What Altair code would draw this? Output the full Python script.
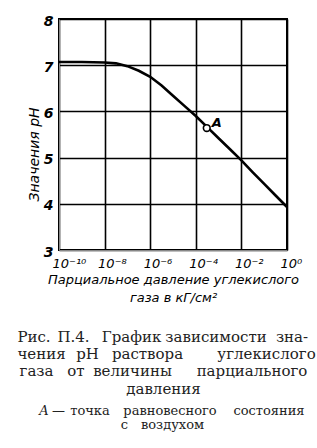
import altair as alt
import pandas as pd

# data
pressure_exp = [-10, -9, -8, -7.5, -7, -6.5, -6, -5.5, -5, -4.5, -4, -3.5, -3, -2.5, -2, -1.5, -1, -0.5, 0]
ph_values = [7.07, 7.07, 7.06, 7.04, 6.98, 6.88, 6.75, 6.56, 6.34, 6.12, 5.90, 5.66, 5.42, 5.18, 4.94, 4.68, 4.43, 4.18, 3.93]
point_a_exp = [-3.52]
point_a_ph = [5.64]
point_a_label = ["A"]

x_tick_values = [1e-10, 1e-8, 1e-6, 1e-4, 1e-2, 1]
x_tick_labels = ["10⁻¹⁰", "10⁻⁸", "10⁻⁶", "10⁻⁴", "10⁻²", "10⁰"]
y_tick_values = [3, 3.5, 4, 4.5, 5, 5.5, 6, 6.5, 7, 7.5, 8]

x_title = ["Парциальное давление углекислого", "газа в кГ/см²"]
y_title = "Значения pH"
caption_words = [
    ["Рис.", "П.4.", "График", "зависимости", "зна-"],
    ["чения", "pH", "раствора", "углекислого"],
    ["газа", "от", "величины", "парциального"],
    ["давления"],
]
note_words = [
    ["А", "—", "точка", "равновесного", "состояния"],
    ["с", "воздухом"],
]

# layout (pixels): word centres for the justified caption text
caption_word_cx = [
    [34, 73.5, 131.5, 216, 292],
    [41.5, 87.5, 147.5, 266.5],
    [36.5, 76, 132.5, 252],
    [163.5],
]
caption_base_y = [342, 359, 376, 394]
note_word_cx = [
    [44, 58.5, 90, 170, 269],
    [124.5, 172.5],
]
note_base_y = [415, 429]

curve = pd.DataFrame({"P": [10 ** e for e in pressure_exp], "pH": ph_values})
pta = pd.DataFrame({"P": [10 ** e for e in point_a_exp], "pH": point_a_ph, "lab": point_a_label})

label_expr = " : ".join(
    f"datum.value > {v*0.5} && datum.value < {v*2} ? '{l}'" for v, l in zip(x_tick_values, x_tick_labels)
) + " : ''"

xenc = alt.X("P:Q", scale=alt.Scale(type="log", domain=[1e-10, 1]),
             axis=alt.Axis(values=x_tick_values, labelExpr=label_expr, grid=True,
                           gridColor="black", gridWidth=1.6, ticks=False,
                           labelAlign="left", labelOffset=-7, labelPadding=7,
                           labelFont="DejaVu Sans", labelFontStyle="italic", labelFontSize=13,
                           labelColor="black",
                           title=x_title, titleFont="DejaVu Sans", titleFontStyle="italic",
                           titleFontWeight="normal", titleFontSize=13, titleColor="black",
                           titlePadding=3, titleLineHeight=18))
yenc = alt.Y("pH:Q", scale=alt.Scale(domain=[3, 8]),
             axis=alt.Axis(values=y_tick_values,
                           labelExpr="datum.value % 1 == 0 ? datum.value : ''",
                           grid=True, gridColor="black", gridWidth=1.6, ticks=False,
                           labelPadding=6, labelOffset=2, labelFont="DejaVu Sans", labelFontStyle="italic",
                           labelFontWeight="bold", labelFontSize=14, labelColor="black",
                           title=y_title, titleFont="DejaVu Sans", titleFontStyle="italic",
                           titleFontWeight="normal", titleFontSize=14, titleColor="black",
                           titleX=-25, titleY=135, titleAlign="center", titleBaseline="middle"))

line = alt.Chart(curve).mark_line(color="black", strokeWidth=2.6).encode(x=xenc, y=yenc)
pt = alt.Chart(pta).mark_point(shape="circle", filled=True, fill="white", stroke="black",
                               strokeWidth=1.6, size=45, opacity=1).encode(x="P:Q", y="pH:Q")
ptl = alt.Chart(pta).mark_text(dx=10, dy=-5, font="DejaVu Sans", fontStyle="italic",
                               fontWeight="bold", fontSize=13, color="black").encode(
    x="P:Q", y="pH:Q", text="lab:N")

layers = [line, pt, ptl]
dummy = pd.DataFrame({"a": [0]})
OX, OY = 59, 19  # plot origin inside the padded canvas
for words, xs, yy in zip(caption_words, caption_word_cx, caption_base_y):
    for w, xx in zip(words, xs):
        layers.append(alt.Chart(dummy).mark_text(font="DejaVu Serif", fontSize=15, color="#222",
                                                 align="center", baseline="alphabetic").encode(
            x=alt.value(xx - OX), y=alt.value(yy - OY), text=alt.value(w)))
for li, (words, xs, yy) in enumerate(zip(note_words, note_word_cx, note_base_y)):
    for wi, (w, xx) in enumerate(zip(words, xs)):
        style = "italic" if (li == 0 and wi == 0) else "normal"
        layers.append(alt.Chart(dummy).mark_text(font="DejaVu Serif", fontSize=13, fontStyle=style,
                                                 color="#222", align="center", baseline="alphabetic").encode(
            x=alt.value(xx - OX), y=alt.value(yy - OY), text=alt.value(w)))

chart = alt.layer(*layers).properties(
    width=228, height=231,
    padding={"left": 59, "top": 19, "right": 30, "bottom": 198},
    autosize=alt.AutoSizeParams(type="none"),
    background="white",
).configure_view(stroke="black", strokeWidth=2)

chart.save("out.html", embed_options={"renderer": "svg", "actions": False})
